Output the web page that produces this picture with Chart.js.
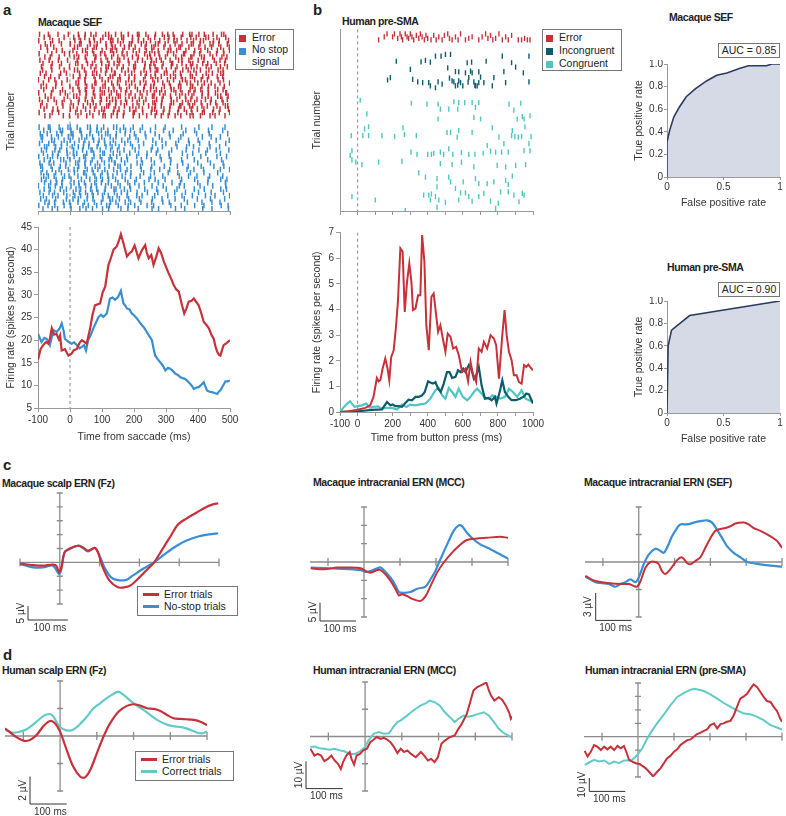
<!DOCTYPE html>
<html>
<head>
<meta charset="utf-8">
<script src="https://cdn.jsdelivr.net/npm/chart.js@4.4.1/dist/chart.umd.min.js"></script>
<style>
  body { margin: 0; background: #fff; }
  #fig { position: relative; width: 786px; height: 816px; overflow: hidden; background: #fff;
         font-family: 'Liberation Sans', Arial, sans-serif; color: #222; }
  #fig canvas { position: absolute; }
  .p { position: absolute; font-weight: bold; font-size: 15px; line-height: 1; }
  .t { position: absolute; font-weight: bold; font-size: 10.5px; line-height: 1; white-space: nowrap; letter-spacing: -0.4px; }
  .lg { position: absolute; box-sizing: border-box; border: 1px solid #777; background: #fff; font-size: 10.5px; }
  .lg span { position: absolute; white-space: nowrap; line-height: 13px; }
  .lg i { position: absolute; display: block; }
  .auc { position: absolute; box-sizing: border-box; border: 1px solid #777; background: #fff;
         font-size: 10.5px; line-height: 13px; text-align: center; }
</style>
</head>
<body>
<div id="fig">
  <div class="p" style="left:3px;top:2px">a</div>
  <div class="t" style="left:38px;top:17px">Macaque SEF</div>
  <div class="p" style="left:313px;top:2px">b</div>
  <div class="t" style="left:342px;top:16px">Human pre-SMA</div>
  <div class="t" style="left:669px;top:12px">Macaque SEF</div>
  <div class="t" style="left:667px;top:262px">Human pre-SMA</div>
  <div class="p" style="left:3px;top:457px">c</div>
  <div class="t" style="left:2px;top:478px">Macaque scalp ERN (Fz)</div>
  <div class="t" style="left:313px;top:477px">Macaque intracranial ERN (MCC)</div>
  <div class="t" style="left:584px;top:477px">Macaque intracranial ERN (SEF)</div>
  <div class="p" style="left:3px;top:647px">d</div>
  <div class="t" style="left:2px;top:665px">Human scalp ERN (Fz)</div>
  <div class="t" style="left:313px;top:665px">Human intracranial ERN (MCC)</div>
  <div class="t" style="left:585px;top:665px">Human intracranial ERN (pre-SMA)</div>
</div>
<script>
/* ---------- colours ---------- */
var red = '#c8313a', blue = '#3a8ed3', teal = '#0d5b6b', cyan = '#4fc6c2', cyanLine = '#62cbc8';
var navy = '#2c3b5f', rocFill = '#d6dae6', axisGray = '#999';

/* ---------- panel a: macaque SEF raster ----------
   one string per trial, 12 ms bins from -100 ms; a digit d puts a spike d/10 into the bin */
var macBinMs = 12;
var macErrorRows = [
  '4.7..2.9..5.38.1.64.27.5.93.1.6.48.2.7.519.3.6.84.',
  '.6.1..8..37.2.5.9.41.83.6.2.7.4.9.15.3.8.2.74.6.9.',
  '2..8.5...6.1.47.3.958.2.6.15.3.7.9.42.8.5.31.7.2.6',
  '.9.3..1.4.82.6.4.7.1.5.83.9.2.63.1.7.5.94.2.86.1.3',
  '7.4.1....53.9.62.8.41.57.3.9.62.8.4.71.3.9.5.2.6.8',
  '..5.8.3..1.64.2.7.935.1.8.4.27.3.96.1.5.8.4.2.7.39',
  '3..6..9.2.1.8.5.34.7.9.2.6.8.145.7.3.92.6.1.8.5.4.',
  '.8.2.5...46.3.91.7.28.4.6.1.53.7.2.9.4.81.63.5.9.2',
  '5.9..3.7..2.6.8.4.1.73.5.9.2.68.1.4.65.3.7.2.9.48.',
  '.3.7..1..84.9.2.6.58.1.7.3.9.42.6.81.5.73.9.2.4.6.',
  '9..4.6..2..5.8.1.73.6.2.94.8.15.3.7.2.69.4.8.1.5.3',
  '.2.6..8..53.1.7.49.2.8.5.1.6.392.4.8.7.16.3.5.9.2.',
  '6.1..9.4..8.5.23.6.91.7.4.8.2.5.96.3.1.7.2.8.4.63.',
  '.7.3.5...29.4.6.1.85.3.7.2.9.46.1.58.3.72.9.4.7.1.',
  '1.8.4..6..5.2.9.7.3.84.6.1.5.9.2.7.3.64.8.5.1.9.3.',
  '.4..7.2..96.3.81.5.27.9.4.6.1.3.5.2.9.87.6.3.1.4.9',
  '8.2.6...3.4.7.1.95.6.2.8.3.7.41.9.5.62.83.7.4.1.5.',
  '.5.9..4..17.3.6.2.48.6.1.9.5.38.2.74.1.69.4.3.8.2.',
  '2..5.8.1..9.6.4.73.15.8.2.6.4.37.1.9.5.26.8.4.2.91',
  '.9.4...7.31.5.8.2.6.94.7.3.1.82.6.5.9.4.1.7.3.86.5',
  '4.6.2.8...7.3.1.59.42.8.6.4.1.9.3.7.2.58.4.6.1.9.3',
  '.1..8.3.6.5.9.4.2.7.36.1.8.5.94.2.73.6.18.5.9.3.2.',
  '7.3...5..2.8.6.1.94.2.5.7.3.8.6.1.4.92.53.7.1.6.84',
  '.6.9.1..4.2.4.7.63.8.1.9.5.2.74.8.3.6.19.5.2.7.4.6',
  '3..7.4...8.2.5.9.1.67.4.81.3.59.6.2.4.7.1.83.5.2.9',
  '.8.1..6.2.4.7.3.95.16.2.8.4.3.5.19.7.2.64.3.8.1.7.'
];
var macNoStopRows = [
  '3.71.5.84.2.96.4.1.75.3.8..2..6..1...4...9...3..7.',
  '.5.2.84.6.91.7.35.2..48.1.6..3..7..2..5.8...4...1.',
  '6.4.9.2.71.3.5.8.62.4.7..1.9..5...2..8...3..6....4',
  '82.5.3.9.1.47.2.6.8.3..9.5..1..6..4..2....8..1.5..',
  '.1.63.8.4.7.2.59.3.6.8.4..1..9..3...6..2.7....4..8',
  '4.8.2.16.5.9.3.7.48.2.6.1..5..7..3.9...4..1.6...9.',
  '.73.6.1.9.58.2.4.7.3.1..6.3..8..4...2.7.5...8..3..',
  '9.2.47.5.3.6.81.2.9.7.4..3...5.2..8...6..9..1.4..7',
  '.4.8.3.6.21.7.5.93.6.3.9..2.4.8...1..6..3..7...5..',
  '2.58.1.7.4.93.6.2.8.5..1.7..3..8..2...9...4...6..1',
  '.6.2.97.3.8.4.1.6.52.7.3..9..5..1.6..4..7...2..8..',
  '5.9.1..3.84.27.5.3.91.6..8.2..3...5..7...6..9...2.',
  '71.4.8.2..6.3.9.1.5.84..2.7..6..9...3..1..5..8..4.',
  '.2.7.5.9.43.8.16.4.7.5.2..9..4.7..3...8.6..1...5.9',
  '8.3.6.1..5.92.4.7.1.6.8.2..5..3..9..4..7...2..8...',
  '.57.2.9.1.4.6.8.3.25.9..1.6..3..5...8..2.4..7...1.',
  '9.1.7.4.6..3.5.28.4.2.7..6..9.5..1...4..8...3..6.2',
  '.7.39.2..46.1.8.5.3.8..4.2.7...3..9..1...6..2...8.',
  '1.8.5.3.6.7.49.2.6.1.4.9..3..7..6...8.1...2..5..9.',
  '.6.2.8.4.9.1.7.3.5.83.5.1..8..9..4..2...7..3...6.1',
  '5.9.3.7..28.4.16.3.9.7.3.8..5..2...6..4..8...1..3.',
  '.4.8.2.5.6.19.4.8.3.6..2.7.1..4..8...5..2..6..1..9',
  '7.2.6..4.15.8.3.9.74.2.6..4..8..3..7..1..5..9...6.',
  '.89.3.6.2.4.1.7.5.9.3.7.1.8..6..5.2...9...7..3.4..',
  '2.6.4.8.5..7.1.3.96.9..5.2..4.1...6..3..8..2...7.5',
  '.3.7.1..6.9.5.2.8.4..6.4..1..7.4...8..2...9..3...6'
];

/* ---------- panel a: firing rate (ms, spikes/s) ---------- */
var macFireError = [[-100,15.7],[-92,18],[-85,18.8],[-75,19.6],[-68,19.2],[-63,20.3],[-57,22.6],[-50,21.2],[-42,21.4],[-35,20.2],[-31,21],[-26,17.7],[-16,18],[-10,17.2],[-5,16.6],[5,17],[12,17.8],[21,18],[30,19.4],[37,20],[45,19.6],[52,19.2],[63,22.6],[70,25.5],[78,27.7],[86,27.9],[94,28.1],[102,30.5],[110,31.8],[120,36.6],[128,38.2],[136,40],[146,40.7],[152,41.8],[159,43.4],[167,41.4],[178,38.5],[186,39.2],[193,39.6],[202,40.9],[208,39.5],[214,38.1],[225,39.9],[235,41],[240,39.3],[246,38.1],[254,38.8],[261,36.6],[270,38.5],[277,40.3],[285,39.2],[293,37.4],[300,36.2],[308,34.8],[316,33.6],[324,32.2],[332,31.2],[340,30.7],[350,27.7],[357,25.9],[364,27],[371,28.5],[380,28.7],[387,29.2],[395,28.4],[402,27.7],[410,26],[418,24],[426,23.4],[434,22.6],[442,21.2],[449,20.3],[455,18.5],[460,17.4],[465,16.8],[470,16.6],[475,17.8],[480,18.9],[490,19.4],[500,20]];
var macFireNoStop = [[-100,21.4],[-94,20.4],[-89,19.6],[-80,20.5],[-73,20.3],[-63,18.9],[-57,20.6],[-52,22.2],[-42,21.8],[-33,22.5],[-26,23.7],[-20,22.1],[-16,20.3],[-5,19.6],[5,19.2],[13,19.5],[21,18.9],[30,18.2],[37,18.5],[44,18.9],[50,17.7],[57,20],[65,21.2],[73,22.6],[82,24],[89,25.1],[97,25.6],[104,25.1],[115,25.9],[125,29.2],[133,29.4],[141,28.9],[150,29.5],[159,30.9],[163,29.5],[167,28.1],[173,27.6],[178,27],[186,26.8],[193,25.9],[200,25.5],[209,24.8],[216,24.1],[225,23.3],[232,22.7],[240,21.8],[248,20.9],[256,20],[261,18.2],[266,16.6],[274,15.8],[282,15.1],[290,14.4],[298,13.3],[306,13.9],[313,13.7],[321,13.2],[329,12.6],[337,12.3],[345,11.8],[352,11.6],[360,11.4],[368,10.9],[376,10.3],[382,9.8],[387,9.2],[395,9.5],[402,9.6],[410,10.1],[418,10.7],[423,9.8],[428,8.9],[436,8.6],[444,8.5],[452,8.3],[460,8.1],[465,8.6],[470,8.9],[478,9.9],[486,10.9],[493,10.9],[500,11.1]];
var macTimeTicks = [-100, 500, 100];   // min, max, step
var macRateTicks = [5, 45, 5];

/* ---------- panel b: human pre-SMA raster [ms, trial] ---------- */
var humErrorSpikes = [[120,3.5],[152,2.5],[168,1.5],[200,2.5],[210,1.5],[229,3],[242,1.5],[250,2.5],[257,3.5],[272,1.5],[282,2.5],[291,3],[301,1.5],[310,2.5],[320,3.5],[335,2],[349,3],[358,1.5],[368,2.5],[381,3.5],[390,2],[400,3],[419,3.5],[434,2],[448,3.5],[463,2.5],[482,3.5],[495,2],[514,1.5],[524,3],[539,3.5],[558,2.5],[573,3.5],[587,1.5],[615,3.5],[634,3],[653,2.5],[691,3.5],[710,2.5],[730,1.5],[743,3],[758,2],[771,3.5],[787,3],[806,1.5],[825,3.5],[844,2.5],[859,3.5],[878,2],[916,3.5],[935,3.5],[952,3],[968,3.5],[983,3.5]];
var humIncongruentSpikes = [[221,10.7],[171,17],[187,16.2],[301,13.4],[314,16.8],[343,17.6],[362,10.9],[387,10.4],[371,17.9],[406,17.9],[415,11],[444,9],[459,17.6],[476,9],[482,18.4],[501,8.4],[514,12.9],[524,16.4],[530,8.4],[539,17.3],[549,17.6],[558,14.2],[577,14.3],[558,19],[587,17.9],[600,19],[615,14.6],[625,11.2],[634,16.2],[644,14],[653,14.6],[663,17.6],[672,19],[691,14.3],[701,16],[720,17.9],[733,10.7],[768,19],[777,16.2],[825,9],[834,14.2],[844,17.9],[878,11.2],[901,12.7],[945,14.6],[977,9],[977,17.6],[630,17.7],[650,11],[691,17.9],[444,19.6],[415,19],[571,18.7],[669,18.8],[682,19],[577,17.3]];
var humCongruentSpikes = [[15,23.8],[53,28.4],[63,32.7],[40,33.4],[-36,35.7],[30,35.7],[63,35.7],[139,35.7],[211,36],[259,33.1],[267,35.3],[335,35.7],[307,24.8],[396,25.1],[459,25.1],[472,26.8],[459,30.1],[549,24.3],[577,24.6],[611,24.6],[653,24.6],[691,24.6],[672,26.2],[701,30.1],[663,29.6],[571,26.8],[520,26.8],[863,25.1],[930,24.8],[891,27.1],[910,30.1],[939,29.3],[949,30.1],[983,29],[954,32.7],[510,34.6],[530,34.6],[568,36.2],[577,34],[653,34.6],[768,33.1],[806,36.2],[882,34],[878,35.7],[897,36],[935,36],[916,36.2],[989,36],[834,38.4],[739,39],[983,40.7],[977,38.4],[305,41.2],[339,42],[400,42],[421,42],[434,41.6],[472,41.2],[491,42],[520,40.1],[543,42],[592,41.4],[634,42],[669,42],[716,41.6],[758,40.9],[787,41.2],[821,41.2],[859,41.2],[949,40.7],[-32,40.7],[-42,42.3],[-10,44.6],[25,45.4],[-32,43.8],[120,44.6],[253,44.3],[472,45.1],[539,45.4],[592,44.6],[663,46.2],[796,45.7],[844,46.2],[901,45.7],[958,45.4],[349,48.2],[387,49.6],[453,50.1],[520,49.6],[602,51.2],[530,51.2],[672,50.1],[691,51.8],[739,51.8],[777,51.2],[844,50.7],[859,52.1],[882,49.3],[453,52.9],[558,53.4],[587,54.9],[615,54.9],[634,56.2],[691,56.2],[720,55.1],[815,54.6],[859,54.6],[891,55.7],[939,55.1],[949,55.7],[377,55.7],[406,55.7],[421,55.3],[444,56.2],[463,57.3],[501,58.1],[577,57.3],[653,57.7],[758,57.7],[802,58.4],[920,57.9],[-32,56.2],[101,57.3],[272,60.9],[787,60.1],[453,59.8],[415,57.3]];

/* ---------- panel b: firing rate (ms, spikes/s) ---------- */
var humFireError = [[-100,0],[-51,0.03],[0,0.09],[44,0.16],[72,0.26],[91,0.59],[110,1.33],[120,1.2],[130,1.24],[143,1.7],[158,2.09],[171,1.7],[181,1.24],[192,2.15],[206,2.41],[219,3.32],[230,4.3],[244,6.39],[257,6.26],[269,3.91],[282,5.08],[295,5.8],[307,5.08],[316,3.98],[330,4.04],[345,4.56],[358,4.56],[368,6.91],[381,5.87],[392,3.39],[406,2.41],[421,4.5],[434,4.63],[448,3.78],[459,3.13],[472,3.39],[486,2.87],[501,2.35],[514,3.06],[530,2.93],[545,2.48],[562,2.54],[577,2.22],[596,1.56],[615,1.69],[630,1.2],[644,1.96],[657,1.5],[676,1.17],[691,2.48],[707,2.35],[720,2.74],[739,2.48],[758,3],[777,2.87],[790,2.61],[806,1.3],[825,3],[838,3.98],[850,3],[863,2.35],[878,2.02],[891,1.43],[907,1.43],[920,1.17],[935,1.11],[949,1.83],[962,1.76],[973,1.85],[983,1.76],[1000,1.63]];
var humFireIncongruent = [[-100,0],[0,0.03],[82,0.08],[139,0.1],[168,0.39],[187,0.26],[200,0.29],[215,0.23],[234,0.23],[253,0.2],[272,0.35],[291,0.48],[310,0.46],[330,0.59],[349,0.59],[368,0.65],[383,0.78],[402,1.2],[415,1.15],[430,1.11],[444,1.17],[459,0.91],[474,0.78],[491,1.11],[510,1.56],[524,1.56],[539,1.33],[558,1.37],[573,1.63],[587,1.56],[602,1.69],[615,1.56],[634,1.83],[648,1.69],[663,1.3],[676,1.43],[691,1.76],[707,1.04],[726,0.52],[745,0.55],[764,0.46],[783,0.59],[792,0.33],[810,0.78],[825,1.24],[840,0.78],[859,0.59],[878,0.46],[901,0.46],[926,0.52],[949,0.61],[962,0.72],[977,0.69],[1000,0.33]];
var humFireCongruent = [[-100,0],[-77,0.2],[-58,0.33],[-43,0.42],[-24,0.26],[-17,0.2],[0,0.23],[25,0.26],[50,0.33],[69,0.17],[91,0.2],[116,0.22],[139,0.13],[168,0.16],[196,0.16],[225,0.1],[253,0.29],[278,0.2],[301,0.29],[330,0.26],[358,0.3],[387,0.33],[415,0.52],[444,0.85],[463,0.94],[482,0.65],[501,0.52],[520,0.94],[539,0.78],[558,0.59],[577,0.91],[600,0.59],[625,0.46],[644,0.59],[663,0.78],[682,0.91],[707,0.72],[726,0.55],[749,0.52],[768,0.65],[790,0.59],[815,0.52],[840,0.59],[863,0.91],[886,0.78],[910,0.59],[935,0.85],[958,0.52],[977,0.46],[1000,0.39]];
var humTimeLabels = [-100, 0, 200, 400, 600, 800, 1000];

/* ---------- ROC curves ---------- */
var rocMacFpr = [0, 0, 0.024, 0.06, 0.11, 0.17, 0.25, 0.35, 0.44, 0.53, 0.64, 0.72, 0.88, 0.93, 1];
var rocMacTpr = [0, 0.31, 0.415, 0.53, 0.62, 0.71, 0.78, 0.85, 0.9, 0.92, 0.96, 0.985, 0.985, 1, 1];
var rocHumFpr = [0, 0.01, 0.04, 0.2, 1];
var rocHumTpr = [0, 0.6, 0.74, 0.87, 1];

/* ---------- panel c: macaque ERN (ms, µV) ---------- */
var c1Error = [[-100,-0.4],[-67,-1],[-42,-1.2],[-17,-0.8],[-8,-1.4],[-2,-3.6],[4,-1.8],[12,3.6],[25,5],[46,6],[58,5.4],[71,4.2],[88,5.2],[96,3.6],[108,-1.8],[125,-6.6],[146,-9],[162,-9],[179,-8.2],[200,-5.4],[221,-2.4],[237,0],[258,4.8],[279,9.6],[296,13.5],[317,15.7],[342,17.8],[367,19.9],[383,20.8],[398,21.3]];
var c1NoStop = [[-100,-0.6],[-67,-1.8],[-42,-1.8],[-17,-1.2],[-2,-4.2],[4,-2.4],[12,3.6],[25,4.8],[46,6],[58,5.2],[71,4],[88,5.2],[100,2.4],[112,-1.8],[129,-5.4],[146,-6.4],[167,-6.3],[183,-4.8],[208,-2.4],[237,0],[267,3.3],[292,5.8],[317,7.8],[350,9.4],[375,10.1],[398,10.5]];
var c2Error = [[-148,-1.7],[-111,-2],[-74,-1.5],[-46,-1.5],[-9,-1.7],[5,-2.5],[18,-2.9],[37,-2.2],[46,-2.2],[60,-3.4],[74,-5.2],[88,-7.5],[97,-9.1],[106,-8.8],[120,-9.3],[138,-10.2],[157,-10.6],[171,-9.3],[185,-6.5],[203,-2.9],[221,-0.2],[244,2.5],[268,4.8],[286,6],[314,6.4],[341,6.6],[378,6.9],[400,6.6]];
var c2NoStop = [[-148,-1.5],[-74,-1.8],[-9,-2.2],[5,-2.7],[18,-2.5],[37,-1.7],[46,-1.5],[60,-2.7],[74,-4.3],[88,-6.5],[97,-8.2],[111,-8.4],[129,-8.2],[148,-7.3],[171,-6.7],[185,-4.7],[198,-2.5],[212,0.7],[231,4.8],[249,8.5],[263,10],[272,9.8],[286,8],[304,6.2],[323,4.8],[351,3.5],[378,2.1],[400,0.9]];
var c3Error = [[-149,-1.5],[-126,-2],[-102,-2.2],[-74,-2.35],[-51,-2.4],[-28,-2.4],[-14,-2.6],[-5,-2.7],[5,-2.1],[19,-0.6],[33,0],[47,0],[56,-0.25],[65,-1],[74,-1.3],[88,-0.8],[107,0.2],[121,0.5],[135,-0.1],[144,-0.25],[158,0.1],[172,0.5],[186,1.55],[200,2.6],[214,3.4],[228,3.6],[242,3.7],[256,3.9],[270,4.2],[293,4.3],[307,4.1],[321,3.7],[340,3.4],[368,2.8],[386,2.3],[400,1.55]];
var c3NoStop = [[-149,-1.6],[-135,-1.9],[-121,-2.2],[-102,-2.3],[-84,-2.4],[-65,-2.7],[-51,-2.4],[-37,-2.2],[-23,-1.9],[-9,-2.2],[0,-1.7],[14,-0.25],[28,0.8],[47,1.45],[61,1.2],[70,1],[79,1.55],[93,2.8],[107,3.7],[116,4.1],[135,4.1],[154,4.3],[172,4.45],[191,4.55],[205,4.3],[219,3.5],[233,2.6],[247,1.7],[265,1],[284,0.5],[303,0],[330,-0.2],[368,-0.4],[400,-0.5]];

/* ---------- panel d: human ERN (ms, µV) ---------- */
var d1Error = [[-150,0.56],[-127,0.07],[-100,-0.34],[-82,-0.29],[-64,0.07],[-45,0.73],[-27,1.09],[-14,0.92],[0,0.32],[18,-1.02],[36,-2.24],[55,-2.96],[68,-3.01],[82,-2.48],[100,-1.26],[118,-0.05],[136,0.92],[159,1.77],[182,2.19],[200,2.31],[218,2.21],[236,2.02],[255,1.97],[273,1.82],[291,1.53],[309,1.29],[327,1.24],[345,1.22],[364,1.17],[382,1.04],[400,0.8]];
var d1Correct = [[-150,0.44],[-127,0.24],[-109,0.32],[-91,0.49],[-64,1.04],[-45,1.46],[-29,1.6],[-18,1.41],[-5,0.8],[9,0.49],[27,0.39],[45,0.63],[73,1.41],[91,2.02],[109,2.38],[127,2.75],[145,3.06],[159,3.23],[173,2.99],[191,2.58],[209,2.21],[227,1.9],[245,1.53],[264,1.17],[282,0.92],[300,0.75],[318,0.68],[336,0.61],[355,0.44],[373,0.24],[386,0.19],[400,0.32]];
var d2Error = [[-149,-4.5],[-138,-7],[-129,-6.4],[-120,-7],[-111,-9],[-101,-8.2],[-92,-7],[-83,-8.8],[-74,-10],[-66,-11.9],[-60,-9.4],[-51,-7],[-42,-5.7],[-37,-8.2],[-30,-10.3],[-23,-7],[-14,-6.4],[-5,-5.1],[5,-4.5],[14,-2.1],[23,-1.2],[32,-0.2],[42,-0.9],[51,-0.5],[60,-1.1],[69,-2.1],[78,-3.7],[88,-6.1],[97,-4.5],[106,-5.7],[115,-5.1],[125,-6.4],[138,-7.6],[152,-5.7],[161,-7],[171,-8.8],[180,-8.2],[189,-9.4],[198,-7.6],[208,-2.7],[217,-1.5],[231,-0.2],[244,0.4],[254,2.8],[263,4.6],[277,8.3],[286,12.6],[295,16.9],[305,18.1],[314,18.7],[323,19.3],[330,19.9],[337,16.9],[343,15],[352,13.2],[364,14.4],[373,13.5],[383,11.4],[392,8.9],[397,6.5],[401,7.3]];
var d2Correct = [[-149,-3.9],[-138,-3.7],[-125,-4.3],[-111,-4.5],[-97,-4.9],[-83,-4.5],[-69,-5.1],[-55,-5.5],[-42,-6.4],[-28,-6.4],[-14,-5.5],[0,-3.9],[9,-1.5],[23,1],[37,1.6],[51,1],[65,1.2],[78,3.7],[88,5.3],[97,5.9],[111,7.3],[125,8.9],[138,10.2],[152,11.4],[166,12.2],[175,13.2],[189,12.6],[203,11.4],[217,8.9],[231,7.1],[244,5.3],[254,6.5],[268,7.7],[281,7.3],[295,7.7],[309,8.3],[323,8.9],[337,7.7],[351,5.3],[364,2.8],[378,1.2],[389,0.4],[401,-0.5]];
var d3Error = [[-148,-10.6],[-140,-14.8],[-131,-11.1],[-122,-6.2],[-113,-7.4],[-103,-9.9],[-94,-7.4],[-85,-9.4],[-76,-7.4],[-66,-9.9],[-57,-6.9],[-48,-8.6],[-39,-6.9],[-31,-12.3],[-25,-17.2],[-16,-18.5],[-6,-19.7],[3,-20.2],[12,-21.7],[21,-23.4],[30,-25.9],[42,-29.6],[54,-25.9],[63,-23.4],[72,-19.7],[81,-16],[90,-14.3],[100,-11.1],[109,-9.4],[118,-6.2],[127,-4.4],[137,-2.5],[146,-2],[155,0],[164,2],[174,3],[183,4.4],[192,5.4],[201,8.6],[211,9.9],[220,6.2],[229,9.4],[238,9.9],[247,11.1],[257,11.8],[266,16],[275,22.2],[284,28.3],[294,30],[303,32],[312,35.7],[321,38.9],[331,36.9],[340,33.3],[349,29.6],[358,26.6],[368,25.9],[377,22.2],[386,19.2],[395,13.5],[400,11.1]];
var d3Correct = [[-148,-20.9],[-136,-19.2],[-122,-17.2],[-108,-18.5],[-94,-17.7],[-80,-20.2],[-66,-18.5],[-53,-19.7],[-39,-17.7],[-25,-17.7],[-16,-17.2],[-6,-14.8],[3,-11.8],[12,-8.6],[26,-1.2],[40,4.9],[54,10.3],[72,16.7],[90,23.4],[109,29.6],[127,32.5],[146,35],[157,35.7],[169,35],[183,34],[201,31.5],[220,28.3],[238,25.1],[257,22.2],[275,19.7],[294,17.2],[312,16.7],[331,14.8],[349,12.3],[368,8.6],[386,6.9],[400,5.4]];
var ernTimeTicks = [-100, 0, 100, 200, 300, 400];

/* ---------- helpers ---------- */
Chart.defaults.font.family = "'Liberation Sans', Arial, sans-serif";
Chart.defaults.font.size = 10;
Chart.defaults.color = '#333';
Chart.defaults.animation = false;
Chart.defaults.responsive = false;
Chart.defaults.plugins.legend.display = false;
Chart.defaults.plugins.tooltip.enabled = false;

var fig = document.getElementById('fig');

function canvasAt(left, top, w, h) {
  var c = document.createElement('canvas');
  c.width = w; c.height = h;
  c.style.left = left + 'px'; c.style.top = top + 'px';
  c.style.width = w + 'px'; c.style.height = h + 'px';
  fig.appendChild(c);
  return c;
}
function pts(a) { return a.map(function (p) { return {x: p[0], y: p[1]}; }); }
function zip(xs, ys) { return xs.map(function (x, i) { return {x: x, y: ys[i]}; }); }
function fixW(w) { return function (s) { s.width = w; s.paddingTop = 0; s.paddingBottom = 0; }; }
function fixH(h) { return function (s) { s.height = h; s.paddingLeft = 0; s.paddingRight = 0; }; }
function lineSet(data, color, width, tension) {
  return {data: pts(data), showLine: true, borderColor: color, borderWidth: width,
          pointRadius: 0, tension: tension || 0, fill: false};
}
function rasterSet(data, color, r, w) {
  return {data: data, showLine: false, pointStyle: 'line', pointRotation: 90, pointRadius: r || 2.6,
          pointBorderColor: color, pointBorderWidth: w || 1.4, pointBackgroundColor: color};
}
function rowsToSpikes(rows, firstRow) {
  var out = [];
  rows.forEach(function (row, r) {
    for (var i = 0; i < row.length; i++) {
      var c = row[i];
      if (c !== '.') out.push({x: macTimeTicks[0] + (i + Number(c) / 10) * macBinMs, y: firstRow + r});
    }
  });
  return out;
}

// dashed line at time zero
var zeroLine = {
  id: 'zeroLine',
  beforeDatasetsDraw: function (chart) {
    var ctx = chart.ctx, a = chart.chartArea, x = chart.scales.x.getPixelForValue(0);
    ctx.save();
    ctx.strokeStyle = '#9a9a9a'; ctx.lineWidth = 1.2; ctx.setLineDash([3, 3]);
    ctx.beginPath(); ctx.moveTo(x, a.top); ctx.lineTo(x, a.bottom); ctx.stroke();
    ctx.restore();
  }
};

// crossing axes and scale bar for the ERN plots
var ernAxes = {
  id: 'ernAxes',
  beforeDatasetsDraw: function (chart, args, o) {
    var ctx = chart.ctx, x = chart.scales.x, y = chart.scales.y;
    var x0 = x.getPixelForValue(0), y0 = y.getPixelForValue(0);
    ctx.save();
    ctx.strokeStyle = '#8c8c8c'; ctx.lineWidth = 1.3;
    ctx.beginPath();
    ctx.moveTo(x.left, y0); ctx.lineTo(x.right, y0);
    ctx.moveTo(x0, y.top); ctx.lineTo(x0, y.bottom);
    o.xTicks.forEach(function (v) { var p = x.getPixelForValue(v); ctx.moveTo(p, y0 - 4); ctx.lineTo(p, y0 + 4); });
    for (var v = y.min; v <= y.max + 1e-9; v += o.yStep) {
      var p = y.getPixelForValue(v); ctx.moveTo(x0 - 3, p); ctx.lineTo(x0 + 3, p);
    }
    ctx.stroke();
    ctx.restore();
  },
  afterDraw: function (chart, args, o) {
    var ctx = chart.ctx, a = chart.chartArea, x = chart.scales.x, y = chart.scales.y, b = o.bar;
    var bx = a.left + b.dx, by = a.bottom + b.dy;
    var w = x.getPixelForValue(100) - x.getPixelForValue(0);
    var h = y.getPixelForValue(0) - y.getPixelForValue(o.yStep);
    ctx.save();
    ctx.strokeStyle = '#333'; ctx.lineWidth = 1;
    ctx.beginPath(); ctx.moveTo(bx, by - h); ctx.lineTo(bx, by); ctx.lineTo(bx + w, by); ctx.stroke();
    ctx.fillStyle = '#333';
    ctx.font = "10px 'Liberation Sans', Arial, sans-serif";
    ctx.textAlign = 'center'; ctx.textBaseline = 'top';
    ctx.fillText('100 ms', bx + w / 2 + 2, by + 3);
    ctx.translate(bx - 7, by - h / 2); ctx.rotate(-Math.PI / 2);
    ctx.textBaseline = 'middle';
    ctx.fillText(o.yStep + ' µV', 0, 0);
    ctx.restore();
  }
};

function axisGrid(len) { return {display: true, drawOnChartArea: false, drawTicks: true, tickLength: len, color: axisGray}; }

/* ---------- panel a raster ---------- */
new Chart(canvasAt(0, 26, 246, 191), {
  type: 'scatter',
  data: {datasets: [rasterSet(rowsToSpikes(macErrorRows, 0.8), red, 2.8, 1.5), rasterSet(rowsToSpikes(macNoStopRows, 29.3), blue, 2.8, 1.5)]},
  options: {
    layout: {padding: {top: 4, right: 16, left: 0, bottom: 0}},
    scales: {
      x: {type: 'linear', min: macTimeTicks[0], max: macTimeTicks[1], afterFit: fixH(6),
          ticks: {display: false, stepSize: macTimeTicks[2]}, grid: axisGrid(4), border: {color: axisGray}},
      y: {type: 'linear', min: 0, max: 55, reverse: true, afterFit: fixW(38),
          ticks: {display: false}, grid: {display: false}, border: {display: false},
          title: {display: true, text: 'Trial number', font: {size: 10.5}, padding: {top: 4.5, bottom: 0}}}
    }
  },
  plugins: [zeroLine]
});

/* ---------- panel a firing rate ---------- */
new Chart(canvasAt(0, 220, 246, 225), {
  type: 'scatter',
  data: {datasets: [lineSet(macFireError, red, 2.2), lineSet(macFireNoStop, blue, 2.2)]},
  options: {
    layout: {padding: {top: 7, right: 16, left: 0, bottom: 0}},
    scales: {
      x: {type: 'linear', min: macTimeTicks[0], max: macTimeTicks[1], afterFit: fixH(37),
          ticks: {stepSize: macTimeTicks[2], autoSkip: false, maxRotation: 0, padding: 2, callback: function (v) { return String(v); }},
          grid: axisGrid(4), border: {color: axisGray},
          title: {display: true, text: 'Time from saccade (ms)', font: {size: 10.5}, padding: {top: 0, bottom: 1.5}}},
      y: {type: 'linear', min: macRateTicks[0], max: macRateTicks[1], afterFit: fixW(38),
          ticks: {stepSize: macRateTicks[2], padding: 2, callback: function (v) { return String(v); }},
          grid: axisGrid(4), border: {color: axisGray},
          title: {display: true, text: 'Firing rate (spikes per second)', font: {size: 10.5}, padding: {top: 4.5, bottom: 0}}}
    }
  },
  plugins: [zeroLine]
});

/* ---------- panel b raster ---------- */
new Chart(canvasAt(305, 24, 245, 193), {
  type: 'scatter',
  data: {datasets: [rasterSet(pts(humErrorSpikes), red), rasterSet(pts(humIncongruentSpikes), teal), rasterSet(pts(humCongruentSpikes), cyan)]},
  options: {
    layout: {padding: {top: 4, right: 17, left: 0, bottom: 0}},
    scales: {
      x: {type: 'linear', min: -100, max: 1000, afterFit: fixH(6),
          ticks: {display: false, stepSize: 100}, grid: axisGrid(4), border: {color: axisGray}},
      y: {type: 'linear', min: 0, max: 61, reverse: true, afterFit: fixW(35),
          ticks: {display: false}, grid: {display: false}, border: {color: axisGray},
          title: {display: true, text: 'Trial number', font: {size: 10.5}, padding: {top: 5.5, bottom: 0}}}
    }
  },
  plugins: [zeroLine]
});

/* ---------- panel b firing rate ---------- */
new Chart(canvasAt(305, 226, 245, 220), {
  type: 'scatter',
  data: {datasets: [lineSet(humFireError, red, 2), lineSet(humFireIncongruent, teal, 2.2), lineSet(humFireCongruent, cyan, 2.2)]},
  options: {
    layout: {padding: {top: 6.7, right: 17, left: 0, bottom: 0}},
    scales: {
      x: {type: 'linear', min: -100, max: 1000, afterFit: fixH(34),
          ticks: {stepSize: 100, autoSkip: false, maxRotation: 0, padding: 2,
                  callback: function (v) { return humTimeLabels.indexOf(v) >= 0 ? String(v) : ''; }},
          grid: axisGrid(4), border: {color: axisGray},
          title: {display: true, text: 'Time from button press (ms)', font: {size: 10.5}, padding: {top: 0, bottom: 1.5}}},
      y: {type: 'linear', min: 0, max: 7, afterFit: fixW(35),
          ticks: {stepSize: 1, padding: 2}, grid: axisGrid(4), border: {color: axisGray},
          title: {display: true, text: 'Firing rate (spikes per second)', font: {size: 10.5}, padding: {top: 5.5, bottom: 0}}}
    }
  },
  plugins: [zeroLine]
});

/* ---------- ROC curves ---------- */
function rocChart(top, height, padTop, fpr, tpr) {
  new Chart(canvasAt(632, top, 152, height), {
    type: 'scatter',
    data: {datasets: [
      {data: zip(fpr, tpr), showLine: true, borderColor: navy, borderWidth: 1.6, pointRadius: 0,
       fill: 'origin', backgroundColor: rocFill},
      {data: zip([0, 1], [0, 1]), showLine: true, borderColor: '#8a8f9c', borderWidth: 0.8,
       borderDash: [3, 3], pointRadius: 0, fill: false}
    ]},
    options: {
      layout: {padding: {top: padTop, right: 4, left: 0, bottom: 0}},
      scales: {
        x: {type: 'linear', min: 0, max: 1, afterFit: fixH(33),
            ticks: {stepSize: 0.5, autoSkip: false, maxRotation: 0, padding: 1, callback: function (v) { return String(v); }},
            grid: axisGrid(3), border: {color: axisGray},
            title: {display: true, text: 'False positive rate', font: {size: 10.5}, padding: {top: 0, bottom: 1}}},
        y: {type: 'linear', min: 0, max: 1, afterFit: fixW(35),
            ticks: {stepSize: 0.2, padding: 1, callback: function (v) { return v === 0 ? '0' : v.toFixed(1); }},
            grid: axisGrid(3), border: {color: axisGray},
            title: {display: true, text: 'True positive rate', font: {size: 10.5}, padding: {top: 1, bottom: 0}}}
      }
    }
  });
}
rocChart(60, 150, 4, rocMacFpr, rocMacTpr);
rocChart(297, 149, 4, rocHumFpr, rocHumTpr);

/* ---------- ERN plots ---------- */
function ernChart(left, top, w, h, pad, xMin, xMax, yMin, yMax, yStep, sets, bar) {
  new Chart(canvasAt(left, top, w, h), {
    type: 'scatter',
    data: {datasets: sets},
    options: {
      layout: {padding: pad},
      scales: {
        x: {type: 'linear', display: false, min: xMin, max: xMax},
        y: {type: 'linear', display: false, min: yMin, max: yMax}
      },
      plugins: {ernAxes: {xTicks: ernTimeTicks, yStep: yStep, bar: bar}}
    },
    plugins: [ernAxes]
  });
}
ernChart(0, 488, 262, 152, {left: 20, right: 43, top: 5, bottom: 36}, -100, 400, -15, 25, 5,
  [lineSet(c1Error, red, 2.2, 0.3), lineSet(c1NoStop, blue, 2.2, 0.3)], {dx: 8, dy: 16});
ernChart(270, 488, 260, 152, {left: 40, right: 22, top: 19, bottom: 23}, -150, 400, -15, 15, 5,
  [lineSet(c2Error, red, 2, 0.3), lineSet(c2NoStop, blue, 2.2, 0.3)], {dx: 10, dy: 4});
ernChart(530, 488, 256, 152, {left: 55, right: 4, top: 19, bottom: 23}, -150, 400, -6, 6, 3,
  [lineSet(c3Error, red, 2, 0.3), lineSet(c3NoStop, blue, 2.2, 0.3)], {dx: 10.7, dy: 3.4});
ernChart(0, 672, 262, 144, {left: 5, right: 55, top: 9, bottom: 25}, -150, 400, -4, 4, 2,
  [lineSet(d1Error, red, 2.2, 0.3), lineSet(d1Correct, cyanLine, 2.2, 0.3)], {dx: 25, dy: 13});
ernChart(270, 672, 260, 144, {left: 40, right: 18, top: 10, bottom: 25}, -150, 400, -20, 20, 10,
  [lineSet(d2Error, red, 2, 0), lineSet(d2Correct, cyanLine, 2, 0)], {dx: -4, dy: -2.4});
ernChart(530, 672, 256, 144, {left: 54, right: 4, top: 11, bottom: 39}, -150, 400, -30, 40, 10,
  [lineSet(d3Error, red, 2, 0), lineSet(d3Correct, cyanLine, 2, 0)], {dx: 5.3, dy: 14.4});

/* ---------- legends and AUC boxes (html) ---------- */
function legend(left, top, w, h, html) {
  var d = document.createElement('div');
  d.className = 'lg';
  d.style.cssText = 'left:' + left + 'px;top:' + top + 'px;width:' + w + 'px;height:' + h + 'px';
  d.innerHTML = html;
  fig.appendChild(d);
}
function sq(top, color) { return '<i style="left:3px;top:' + top + 'px;width:7px;height:7px;background:' + color + '"></i>'; }
function ln(top, color) { return '<i style="left:5px;top:' + top + 'px;width:16px;height:3px;background:' + color + '"></i>'; }
function tx(left, top, s, lh) { return '<span style="left:' + left + 'px;top:' + top + 'px' + (lh ? ';line-height:' + lh + 'px' : '') + '">' + s + '</span>'; }

legend(235, 29, 59, 41, sq(5, red) + tx(16, 1, 'Error') + sq(18, blue) + tx(16, 14, 'No stop<br>signal', 11.5));
legend(542, 29, 80, 42, sq(5, red) + tx(16, 1, 'Error') + sq(18, teal) + tx(16, 14, 'Incongruent') + sq(31, cyan) + tx(16, 27, 'Congruent'));
legend(137, 586, 101, 30, ln(6, red) + tx(26, 1, 'Error trials') + ln(18, blue) + tx(26, 13, 'No-stop trials'));
legend(135, 751, 99, 30, ln(6, red) + tx(26, 1, 'Error trials') + ln(18, cyanLine) + tx(26, 13, 'Correct trials'));

function aucBox(top, s) {
  var d = document.createElement('div');
  d.className = 'auc';
  d.style.cssText = 'left:718px;top:' + top + 'px;width:62px;height:15px';
  d.textContent = s;
  fig.appendChild(d);
}
aucBox(43, 'AUC = 0.85');
aucBox(282, 'AUC = 0.90');
</script>
</body>
</html>
